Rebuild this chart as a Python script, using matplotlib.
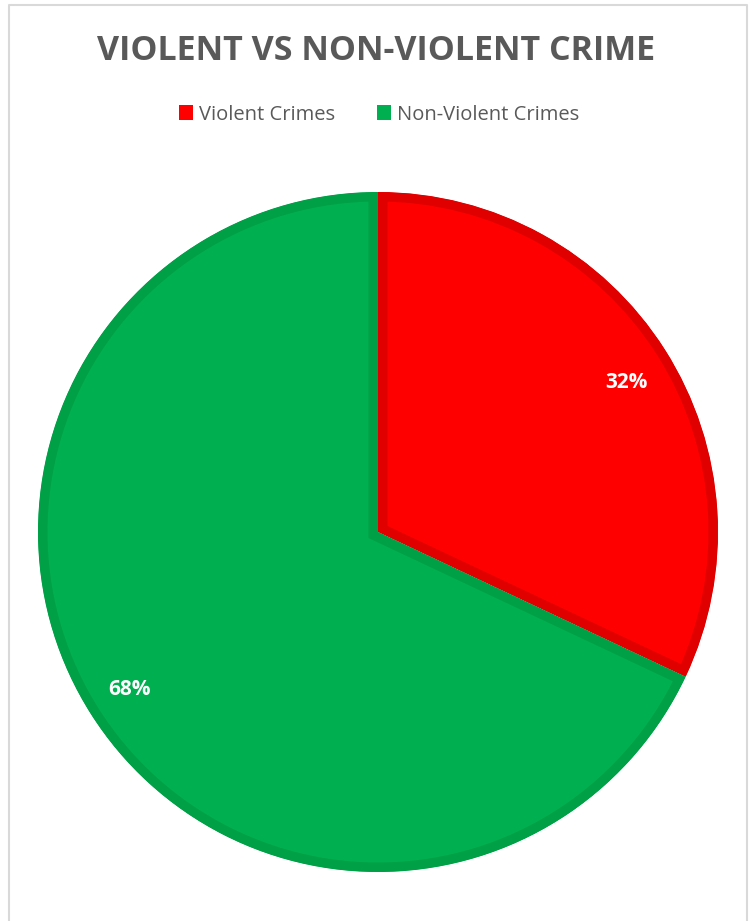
import matplotlib
matplotlib.use("Agg")
import matplotlib.pyplot as plt
from matplotlib.patches import Rectangle, Wedge
from matplotlib.lines import Line2D

categories = ["Violent Crimes", "Non-Violent Crimes"]
values = [32, 68]
fill_colors = ["#FF0000", "#00B050"]
edge_colors = ["#E00000", "#00A046"]
title_text = "VIOLENT VS NON-VIOLENT CRIME"

plt.rcParams['font.family'] = ['Open Sans', 'DejaVu Sans']

W, H = 753, 921
fig = plt.figure(figsize=(W / 100, H / 100), dpi=100)
fig.patch.set_facecolor("white")

# border (left, top, right)
bx0, bx1, by0 = 8.5 / W, 746.5 / W, 1 - 5.5 / H
fig.add_artist(Line2D([bx0, bx0, bx1, bx1], [0, by0, by0, 0], color="#D9D9D9",
                      lw=1.5, transform=fig.transFigure))

cx, cy, r = 378, 532, 340
ax = fig.add_axes([(cx - r) / W, 1 - (cy + r) / H, 2 * r / W, 2 * r / H])
wedges, texts, autotexts = ax.pie(
    values, colors=fill_colors, startangle=90, counterclock=False,
    autopct="%1.0f%%", pctdistance=0.865,
    wedgeprops=dict(linewidth=0), textprops=dict(color="white", fontsize=15, fontweight="bold"))
for w, ec in zip(wedges, edge_colors):
    w.set_edgecolor(ec)
    w.set_linewidth(19 * 72 / 100)
    clip = Wedge(w.center, w.r, w.theta1, w.theta2, transform=ax.transData)
    w.set_clip_on(True)
    w.set_clip_path(clip)
# small nudge of the first label, as in the original
x0, y0 = autotexts[0].get_position()
autotexts[0].set_position((x0, y0 - 0.025))
ax.set_xlim(-1, 1)
ax.set_ylim(-1, 1)
ax.set_aspect("equal")
ax.axis("off")

fig.text(376 / W, 1 - 51 / H, title_text, ha="center", va="center",
         fontsize=24.5, fontweight="bold", color="#595959")

handles = [Rectangle((0, 0), 1, 1, facecolor=c, edgecolor="none") for c in fill_colors]
leg = fig.legend(handles, categories, loc="center", bbox_to_anchor=(379 / W, 1 - 114.5 / H),
                 ncol=2, frameon=False, handlelength=0.7, handleheight=0.7,
                 handletextpad=0.3, columnspacing=2.1, fontsize=14.5)
for t in leg.get_texts():
    t.set_color("#595959")

fig.savefig("out.png", dpi=100, facecolor="white")
